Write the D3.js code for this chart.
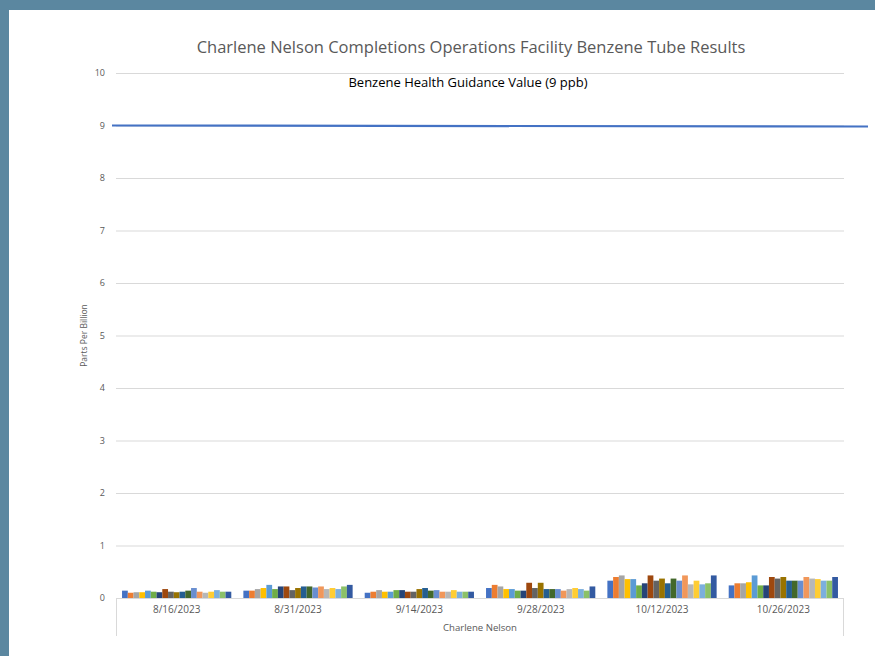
<!DOCTYPE html>
<html>
<head>
<meta charset="utf-8">
<title>Charlene Nelson Completions Operations Facility Benzene Tube Results</title>
<script src="https://cdn.jsdelivr.net/npm/d3@7"></script>
<style>
  body { margin: 0; background: #5b87a0; }
  svg { display: block; }
</style>
</head>
<body>
<svg id="chart" width="875" height="656"></svg>
<script>
// sample dates (category axis)
var dates = ["8/16/2023", "8/31/2023", "9/14/2023", "9/28/2023", "10/12/2023", "10/26/2023"];
var yTicks = [0, 1, 2, 3, 4, 5, 6, 7, 8, 9, 10];
var guidanceValue = 9;

// one array per tube, values in ppb for each date
var tube01 = [0.14, 0.14, 0.10, 0.19, 0.33, 0.24];
var tube02 = [0.10, 0.14, 0.12, 0.25, 0.40, 0.28];
var tube03 = [0.11, 0.17, 0.15, 0.22, 0.43, 0.28];
var tube04 = [0.11, 0.19, 0.12, 0.17, 0.36, 0.30];
var tube05 = [0.14, 0.25, 0.12, 0.17, 0.36, 0.43];
var tube06 = [0.12, 0.17, 0.15, 0.14, 0.24, 0.24];
var tube07 = [0.11, 0.22, 0.15, 0.14, 0.28, 0.24];
var tube08 = [0.17, 0.22, 0.12, 0.29, 0.43, 0.40];
var tube09 = [0.12, 0.15, 0.12, 0.19, 0.33, 0.37];
var tube10 = [0.11, 0.19, 0.17, 0.29, 0.37, 0.40];
var tube11 = [0.12, 0.22, 0.19, 0.17, 0.28, 0.33];
var tube12 = [0.14, 0.22, 0.14, 0.17, 0.37, 0.33];
var tube13 = [0.19, 0.20, 0.15, 0.17, 0.33, 0.33];
var tube14 = [0.12, 0.22, 0.12, 0.14, 0.43, 0.40];
var tube15 = [0.10, 0.17, 0.12, 0.17, 0.26, 0.37];
var tube16 = [0.12, 0.19, 0.15, 0.19, 0.33, 0.36];
var tube17 = [0.15, 0.17, 0.12, 0.17, 0.26, 0.33];
var tube18 = [0.12, 0.22, 0.12, 0.14, 0.28, 0.33];
var tube19 = [0.12, 0.25, 0.12, 0.22, 0.43, 0.40];

var tubes = [tube01, tube02, tube03, tube04, tube05, tube06, tube07, tube08, tube09, tube10,
             tube11, tube12, tube13, tube14, tube15, tube16, tube17, tube18, tube19];

// office style palette
var colors = ["#4472C4", "#ED7D31", "#A5A5A5", "#FFC000", "#5B9BD5", "#70AD47", "#264478",
              "#9E480E", "#636363", "#997300", "#255E91", "#43682B", "#698ED0", "#F1975A",
              "#B7B7B7", "#FFCD33", "#7CAFDD", "#8CC168", "#335AA1"];

var svg = d3.select("#chart");
var font = "'Open Sans', 'Liberation Sans', sans-serif";

// white chart panel
svg.append("rect").attr("x", 9).attr("y", 10).attr("width", 866).attr("height", 646).attr("fill", "#fff");

var plotL = 116, plotR = 844, plotT = 73, plotB = 598;

var y = d3.scaleLinear().domain([0, 10]).range([plotB, plotT]);
var x0 = d3.scaleBand().domain(dates).range([plotL, plotR]);
var x1 = d3.scaleBand().domain(d3.range(tubes.length))
  .range([0, x0.bandwidth()]).paddingOuter(1.05);

// gridlines
svg.append("g").selectAll("line").data(yTicks.filter(function(d){ return d > 0; }))
  .enter().append("line")
  .attr("x1", plotL).attr("x2", plotR)
  .attr("y1", function(d){ return y(d) + 0.5; }).attr("y2", function(d){ return y(d) + 0.5; })
  .attr("stroke", "#d9d9d9").attr("stroke-width", 1);

// y tick labels
svg.append("g").selectAll("text").data(yTicks).enter().append("text")
  .attr("x", 105).attr("y", function(d){ return y(d); })
  .attr("dy", "0.35em").attr("text-anchor", "end")
  .attr("font-family", font).attr("font-size", 9).attr("fill", "#595959")
  .text(function(d){ return d; });

// bars
var groups = svg.append("g").selectAll("g").data(dates).enter().append("g")
  .attr("transform", function(d){ return "translate(" + x0(d) + ",0)"; });

groups.selectAll("rect")
  .data(function(d, i){ return tubes.map(function(t, k){ return {k: k, v: t[i]}; }); })
  .enter().append("rect")
  .attr("x", function(d){ return x1(d.k); })
  .attr("width", x1.bandwidth())
  .attr("y", function(d){ return y(d.v); })
  .attr("height", function(d){ return plotB - y(d.v); })
  .attr("fill", function(d){ return colors[d.k]; });

// category axis
var axisColor = "#d9d9d9";
svg.append("line").attr("x1", plotL).attr("x2", plotR).attr("y1", plotB + 0.5).attr("y2", plotB + 0.5)
  .attr("stroke", axisColor);
svg.append("line").attr("x1", plotL + 0.5).attr("x2", plotL + 0.5).attr("y1", plotB).attr("y2", 636)
  .attr("stroke", axisColor);
svg.append("line").attr("x1", plotR - 0.5).attr("x2", plotR - 0.5).attr("y1", plotB).attr("y2", 636)
  .attr("stroke", axisColor);

svg.append("g").selectAll("text").data(dates).enter().append("text")
  .attr("x", function(d){ return x0(d) + x0.bandwidth() / 2; })
  .attr("y", 609).attr("dy", "0.35em").attr("text-anchor", "middle")
  .attr("font-family", font).attr("font-size", 10).attr("fill", "#595959")
  .text(function(d){ return d; });

svg.append("text").attr("x", (plotL + plotR) / 2).attr("y", 628).attr("dy", "0.35em")
  .attr("text-anchor", "middle").attr("font-family", font).attr("font-size", 9.6).attr("fill", "#595959")
  .text("Charlene Nelson");

// y axis title
svg.append("text").attr("transform", "translate(84," + ((plotT + plotB) / 2) + ") rotate(-90)")
  .attr("text-anchor", "middle").attr("dy", "0.35em")
  .attr("font-family", font).attr("font-size", 8.5).attr("fill", "#595959")
  .text("Parts Per Billion");

// guidance value line
svg.append("line").attr("x1", 112).attr("x2", 868)
  .attr("y1", y(guidanceValue)).attr("y2", y(guidanceValue) + 1)
  .attr("stroke", "#4472C4").attr("stroke-width", 2.2);

svg.append("text").attr("x", 468).attr("y", 82).attr("dy", "0.35em").attr("text-anchor", "middle")
  .attr("font-family", font).attr("font-size", 13).attr("fill", "#000")
  .text("Benzene Health Guidance Value (9 ppb)");

// title
svg.append("text").attr("x", 471).attr("y", 47).attr("dy", "0.35em").attr("text-anchor", "middle")
  .attr("font-family", font).attr("font-size", 16.5).attr("fill", "#595959")
  .text("Charlene Nelson Completions Operations Facility Benzene Tube Results");
</script>
</body>
</html>
